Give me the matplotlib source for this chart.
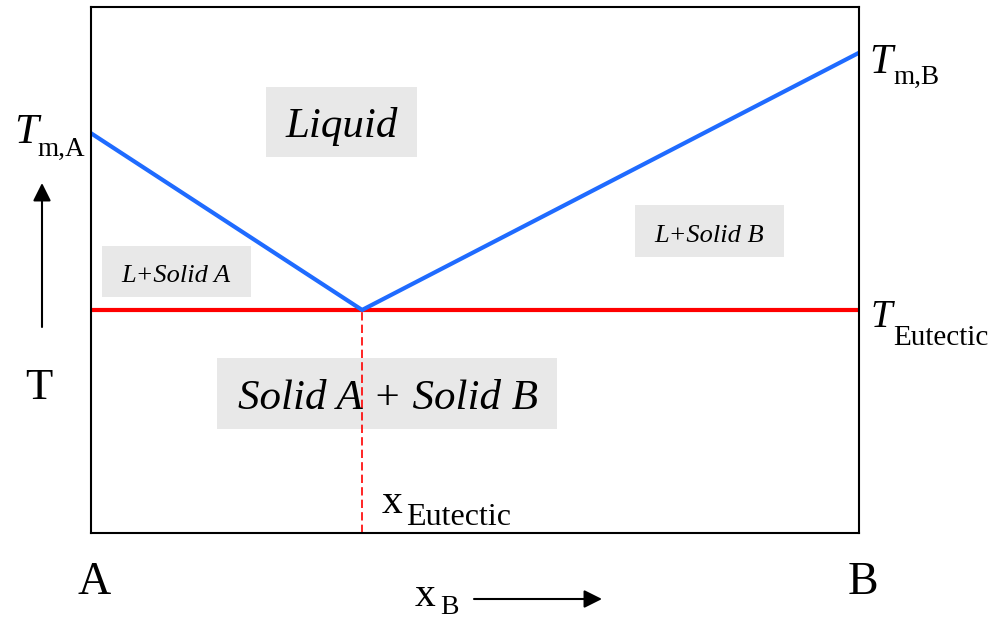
import matplotlib
matplotlib.use("Agg")
import matplotlib.pyplot as plt
from matplotlib.patches import Rectangle, FancyArrowPatch

# Binary eutectic phase diagram (schematic)
x_liquidus = [0.0, 0.353, 1.0]          # mole fraction of B
T_liquidus = [76.0, 42.4, 91.3]         # liquidus temperature (arb. units)
T_eutectic = 42.4
x_eutectic = 0.353

W, H = 988, 620
fig = plt.figure(figsize=(W / 100, H / 100), dpi=100)
plt.rcParams['font.family'] = ['Liberation Serif', 'DejaVu Serif']

L, R, TOP, BOT = 91, 859, 7, 533
ax = fig.add_axes([L / W, 1 - BOT / H, (R - L) / W, (BOT - TOP) / H])
ax.set_xlim(0, 1)
ax.set_ylim(0, 100)
ax.set_xticks([])
ax.set_yticks([])
for s in ax.spines.values():
    s.set_linewidth(1.5)
    s.set_zorder(10)


def axp(px, py):
    """pixel position -> axes fraction"""
    return (px - L) / (R - L), (BOT - py) / (BOT - TOP)


def figp(px, py):
    return px / W, 1 - py / H


# liquidus and eutectic lines
ax.plot(x_liquidus, T_liquidus, color='#1f6bff', lw=3.0, solid_capstyle='butt', zorder=5)
ax.plot([0, 1], [T_eutectic, T_eutectic], color='#ff0000', lw=3.0, solid_capstyle='butt', zorder=4)
ax.plot([x_eutectic, x_eutectic], [0, T_eutectic], color='#ff0000', lw=1.2,
        ls=(0, (5, 2.5)), zorder=4)

# region labels on grey panels
regions = [
    ("Liquid", (266, 87, 417, 157), 285, 137, 31),
    ("L+Solid A", (102, 246, 251, 297), 121, 282, 19),
    ("L+Solid B", (635, 205, 784, 257), 654, 242, 19),
    ("Solid A + Solid B", (217, 358, 557, 429), 238, 409, 31),
]
for label, (x0, y0, x1, y1), tx, ty, fs in regions:
    ax0, ay1 = axp(x0, y0)
    ax1, ay0 = axp(x1, y1)
    ax.add_patch(Rectangle((ax0, ay0), ax1 - ax0, ay1 - ay0, transform=ax.transAxes,
                           facecolor='#e8e8e8', edgecolor='none', zorder=1))
    px, py = axp(tx, ty)
    ax.text(px, py, label, transform=ax.transAxes, fontsize=fs, style='italic',
            ha='left', va='baseline', zorder=6)


def sub_label(x, y, main, sub, xs, ys, fs_main, fs_sub, italic=True):
    fig.text(*figp(x, y), main, fontsize=fs_main, style='italic' if italic else 'normal',
             ha='left', va='baseline')
    fig.text(*figp(xs, ys), sub, fontsize=fs_sub, ha='left', va='baseline')


sub_label(14, 143, "T", "m,A", 37, 156, 31, 19.5)
sub_label(869, 73, "T", "m,B", 893, 84, 30, 19.5)
sub_label(870, 327, "T", "Eutectic", 893, 345, 28, 21)
sub_label(382, 513, "x", "Eutectic", 406, 525, 30, 23, italic=False)
sub_label(415, 606, "x", "B", 440, 614, 30, 20, italic=False)

# corner and axis labels
fig.text(*figp(78, 594), "A", fontsize=33, ha='left', va='baseline')
fig.text(*figp(848, 594), "B", fontsize=33, ha='left', va='baseline')
fig.text(*figp(25, 399), "T", fontsize=32, ha='left', va='baseline')

# direction arrows
arrow_style = '-|>,head_length=0.68,head_width=0.34'
fig.add_artist(FancyArrowPatch(
    figp(42, 327), figp(42, 183), transform=fig.transFigure,
    arrowstyle=arrow_style, mutation_scale=16,
    color='black', lw=1.5, shrinkA=0, shrinkB=0))
fig.add_artist(FancyArrowPatch(
    figp(474, 599), figp(602, 599), transform=fig.transFigure,
    arrowstyle=arrow_style, mutation_scale=16,
    color='black', lw=1.5, shrinkA=0, shrinkB=0))

fig.savefig("out.png", dpi=100)
